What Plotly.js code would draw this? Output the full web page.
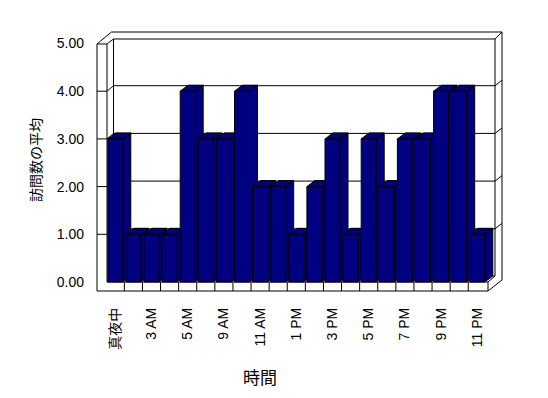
<!DOCTYPE html>
<html><head><meta charset="utf-8">
<script src="https://cdn.plot.ly/plotly-3.0.1.min.js"></script>
<style>html,body{margin:0;padding:0;background:#fff;overflow:hidden}</style>
</head><body><div id="chart" style="width:548px;height:398px"></div>
<script>
// ---- data ----
const categories = ['真夜中','1 AM','3 AM','4 AM','5 AM','8 AM','9 AM','10 AM','11 AM','正午','1 PM','2 PM','3 PM','4 PM','5 PM','6 PM','7 PM','8 PM','9 PM','10 PM','11 PM'];
const visits = [3,1,1,1,4,3,3,4,2,2,1,2,3,1,3,2,3,3,4,4,1];
const yTickVals = [0,1,2,3,4,5];
const yTickText = ['0.00','1.00','2.00','3.00','4.00','5.00'];
const xTitle = '時間';
const yTitle = '訪問数の平均';

// ---- geometry (pixels) ----
const W = 548, H = 398;
const L = 97, R = 502, T = 32, B = 291;      // plot area
const xPer = 18.1, x0px = 115.3;              // px per category, centre of first
const yPer = 47.7, y0px = 282;                // px per unit, zero level
const xr0 = -(x0px - L) / xPer, xr1 = xr0 + (R - L) / xPer;
const yr0 = -(B - y0px) / yPer, yr1 = yr0 + (B - T) / yPer;
const barW = 15 / xPer;
const dX = 8 / xPer, dY = 6 / yPer;
const NAVY = '#000080';

const px = p => (p - L) / (R - L);
const py = p => (B - p) / (B - T);
const shapes = [];
function seg(x1, y1, x2, y2) {
  shapes.push({type: 'line', xref: 'paper', yref: 'paper', layer: 'below',
    x0: px(x1), y0: py(y1), x1: px(x2), y1: py(y2), line: {color: '#000', width: 1}});
}
// frame: left wall
seg(97, 44, 97, 291);
seg(107, 44, 107, 282);
seg(113.5, 39, 113.5, 276);
seg(97, 44, 107, 44);
seg(97, 44, 111.5, 32);
seg(107, 44, 113.5, 39);
// back wall top / right
seg(111.5, 32, 502, 32);
seg(113.5, 39, 495, 39);
seg(495, 39, 502, 32);
seg(495, 39, 495, 276);
seg(502, 32, 502, 280);
// floor
seg(107, 282, 488, 282);
seg(97, 291, 488, 291);
seg(488, 282, 488, 291);
seg(488, 282, 495, 276);
seg(488, 291, 502, 280);
seg(113.5, 276, 495, 276);
// gridlines on back wall
yTickVals.forEach(v => {
  if (v <= 0 || v >= 5) return;
  const y = y0px - yPer * v;
  seg(97, y, 107, y);
  seg(107, y, 113.5, y - 5.5);
  seg(113.5, y - 5.5, 495, y - 5.5);
  seg(495, y - 5.5, 502, y - 11);
});
// floor category separators
for (let i = 1; i < categories.length; i++) {
  const x = x0px + (i - 0.5) * xPer;
  seg(x, 282, x, 291);
}

// ---- traces ----
const traces = [];
visits.forEach((v, i) => {
  const xl = i - barW / 2, xr = i + barW / 2;
  traces.push({
    type: 'scatter', mode: 'lines', fill: 'toself', fillcolor: NAVY,
    line: {color: '#000', width: 1}, hoverinfo: 'skip', showlegend: false,
    x: [xr, xr + dX, xr + dX, xr, xr, null, xl, xr, xr + dX, xl + dX, xl],
    y: [0, dY, v + dY, v, 0, null, v, v, v + dY, v + dY, v],
    xaxis: 'x', yaxis: 'y'
  });
});
traces.push({
  type: 'bar', x: categories.map((c, i) => i), y: visits, width: barW,
  customdata: categories, hovertemplate: '%{customdata}: %{y:.2f}<extra></extra>',
  textposition: 'none',
  marker: {color: NAVY, line: {color: '#000', width: 1}},
  xaxis: 'x', yaxis: 'y2', showlegend: false
});

const tickIdx = categories.map((c, i) => i).filter(i => i % 2 === 0);
const fontFam = 'Liberation Sans, Arial, Noto Sans CJK JP, sans-serif';
const layout = {
  width: W, height: H,
  margin: {l: L, r: W - R, t: T, b: H - B, pad: 0},
  paper_bgcolor: '#fff', plot_bgcolor: 'rgba(0,0,0,0)',
  showlegend: false,
  xaxis: {range: [xr0, xr1], showgrid: false, zeroline: false, showline: false,
    ticks: '', tickvals: tickIdx, ticktext: tickIdx.map(i => categories[i]),
    tickangle: -90, ticklabelstandoff: 13,
    tickfont: {family: fontFam, size: 14, color: '#000'}},
  yaxis: {range: [yr0, yr1], showgrid: false, zeroline: false, showline: false,
    ticks: '', tickvals: yTickVals, ticktext: yTickText, ticklabelstandoff: 12,
    tickfont: {family: fontFam, size: 14, color: '#000'}},
  yaxis2: {range: [yr0, yr1], overlaying: 'y', visible: false, showgrid: false, zeroline: false},
  shapes: shapes,
  annotations: [
    {text: xTitle, xref: 'paper', yref: 'paper', x: px(260), y: py(376),
      xanchor: 'center', yanchor: 'middle', showarrow: false,
      font: {family: 'Noto Sans CJK JP, sans-serif', size: 17, color: '#000'}},
    {text: yTitle, xref: 'paper', yref: 'paper', x: px(35), y: py(160),
      xanchor: 'center', yanchor: 'middle', showarrow: false, textangle: -90,
      font: {family: 'Noto Sans CJK JP, sans-serif', size: 14, color: '#000'}}
  ]
};
Plotly.newPlot('chart', traces, layout, {staticPlot: true, displayModeBar: false});
</script>
</body></html>
